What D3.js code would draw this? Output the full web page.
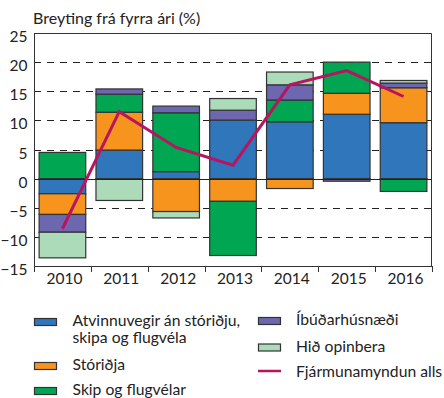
<!DOCTYPE html>
<html>
<head>
<meta charset="utf-8">
<script src="https://cdn.jsdelivr.net/npm/d3@7"></script>
<style>
  html, body { margin: 0; padding: 0; background: #fff; }
  svg { display: block; font-family: Lato, "Open Sans", sans-serif; }
</style>
</head>
<body>
<svg id="chart" width="444" height="398"></svg>
<script>
// Fjármunamyndun: breyting frá fyrra ári (%), framlag undirliða
const years = ["2010", "2011", "2012", "2013", "2014", "2015", "2016"];
const atvinnuvegir = [-2.6, 4.9, 1.2, 10.05, 9.75, 11.05, 9.6];
const storidja = [-3.55, 6.5, -5.65, -3.9, -1.7, 3.6, 6.0];
const skipFlug = [4.5, 3.1, 10.1, -9.3, 3.75, 5.35, -2.2];
const ibudir = [-3.05, 0.9, 1.15, 1.7, 2.6, -0.45, 0.8];
const opinbera = [-4.4, -3.75, -1.1, 2.0, 2.2, 0, 0.45];
const heild = [-8.6, 11.5, 5.35, 2.3, 16.1, 18.55, 14.1];

const yTicks = [-15, -10, -5, 0, 5, 10, 15, 20, 25];

const seriesNames = [
  "Atvinnuvegir án stóriðju, skipa og flugvéla",
  "Stóriðja",
  "Skip og flugvélar",
  "Íbúðarhúsnæði",
  "Hið opinbera"
];
const seriesValues = [atvinnuvegir, storidja, skipFlug, ibudir, opinbera];
const colors = ["#2f76bb", "#f7941e", "#00a651", "#6c67ae", "#acdbb9"];
const lineColor = "#b8145f";

const svg = d3.select("#chart");
const plotL = 34, plotR = 432, plotT = 33, plotB = 266;

const x = d3.scaleBand().domain(years).range([plotL, plotR])
  .paddingInner(0.18).paddingOuter(0.09);
const y = d3.scaleLinear().domain([-15, 25]).range([plotB, plotT]);

// rows for the stack
const rows = years.map((yr, i) => {
  const r = { year: yr };
  seriesNames.forEach((k, j) => { r[k] = seriesValues[j][i]; });
  return r;
});
const stacked = d3.stack().keys(seriesNames)
  .offset(d3.stackOffsetDiverging)(rows);

// title
svg.append("text")
  .attr("x", 33).attr("y", 24)
  .attr("font-size", 16).attr("fill", "#222")
  .text("Breyting frá fyrra ári (%)");

// dashed gridlines
const grid = svg.append("g");
yTicks.filter(t => t !== 0 && t !== 25 && t !== -15).forEach(t => {
  grid.append("line")
    .attr("x1", plotL).attr("x2", plotR)
    .attr("y1", Math.round(y(t)) + 0.5).attr("y2", Math.round(y(t)) + 0.5)
    .attr("stroke", "#222").attr("stroke-width", 1)
    .attr("stroke-dasharray", "7,6");
});

// stacked bars
const barG = svg.append("g");
stacked.forEach((s, j) => {
  barG.selectAll(null).data(s.filter(d => d[1] - d[0] !== 0)).join("rect")
    .attr("x", d => x(d.data.year))
    .attr("width", x.bandwidth())
    .attr("y", d => y(d[1]))
    .attr("height", d => y(d[0]) - y(d[1]))
    .attr("fill", colors[j])
    .attr("stroke", "#333")
    .attr("stroke-width", 1.2);
});

// zero line
svg.append("line")
  .attr("x1", plotL).attr("x2", plotR)
  .attr("y1", Math.round(y(0)) + 0.5).attr("y2", Math.round(y(0)) + 0.5)
  .attr("stroke", "#222").attr("stroke-width", 1);

// total line
const line = d3.line()
  .x((d, i) => x(years[i]) + x.bandwidth() / 2)
  .y(d => y(d));
svg.append("path")
  .datum(heild)
  .attr("d", line)
  .attr("fill", "none")
  .attr("stroke", lineColor)
  .attr("stroke-width", 3)
  .attr("stroke-linejoin", "miter");

// frame: top and right edges
svg.append("path")
  .attr("d", `M${plotL},${plotT + 0.5}H${plotR - 0.5}V${plotB}`)
  .attr("fill", "none").attr("stroke", "#333").attr("stroke-width", 1);

// y axis
const yAxis = svg.append("g")
  .attr("transform", `translate(${plotL + 0.5},0)`)
  .call(d3.axisLeft(y).tickValues(yTicks).tickSize(0).tickPadding(7));
yAxis.select(".domain").attr("stroke", "#333").attr("d", `M0,${plotT}V${plotB + 6}`);
yAxis.selectAll("text")
  .attr("font-family", "Lato, 'Open Sans', sans-serif")
  .attr("font-size", 15.5).attr("fill", "#222").attr("dy", "0.55em");

// x axis with ticks at the category boundaries
const step = x.step();
const boundaries = d3.range(years.length + 1).map(i => plotL + i * step);
const xAxisG = svg.append("g");
xAxisG.append("line")
  .attr("x1", plotL).attr("x2", plotR)
  .attr("y1", plotB + 0.5).attr("y2", plotB + 0.5)
  .attr("stroke", "#333");
xAxisG.selectAll(".tk").data(boundaries).join("line")
  .attr("x1", d => Math.round(d) + 0.5).attr("x2", d => Math.round(d) + 0.5)
  .attr("y1", plotB).attr("y2", plotB + 6)
  .attr("stroke", "#333");
xAxisG.selectAll(".lbl").data(years).join("text")
  .attr("x", d => x(d) + x.bandwidth() / 2 + 2)
  .attr("y", 284)
  .attr("text-anchor", "middle")
  .attr("font-size", 15.5).attr("fill", "#222")
  .text(d => d);

// legend
const legend = svg.append("g").attr("font-size", 15.7).attr("fill", "#222");
const legendItems = [
  { col: 0, sy: 318, lines: ["Atvinnuvegir án stóriðju,", "skipa og flugvéla"], ty: 326, type: "rect", c: colors[0] },
  { col: 0, sy: 362, lines: ["Stóriðja"], ty: 370, type: "rect", c: colors[1] },
  { col: 0, sy: 387, lines: ["Skip og flugvélar"], ty: 395, type: "rect", c: colors[2] },
  { col: 1, sy: 317, lines: ["Íbúðarhúsnæði"], ty: 325, type: "rect", c: colors[3] },
  { col: 1, sy: 343.5, lines: ["Hið opinbera"], ty: 351.5, type: "rect", c: colors[4] },
  { col: 1, sy: 371, lines: ["Fjármunamyndun alls"], ty: 377, type: "line", c: lineColor }
];
const colX = [34, 258];
const textX = [72.5, 296];
legendItems.forEach(it => {
  const sx = colX[it.col];
  if (it.type === "rect") {
    legend.append("rect")
      .attr("x", sx + 0.5).attr("y", it.sy + 0.5)
      .attr("width", 22).attr("height", 7)
      .attr("fill", it.c).attr("stroke", "#333").attr("stroke-width", 1.2);
  } else {
    legend.append("line")
      .attr("x1", sx).attr("x2", sx + 23)
      .attr("y1", it.sy).attr("y2", it.sy)
      .attr("stroke", it.c).attr("stroke-width", 2.5);
  }
  const t = legend.append("text").attr("x", textX[it.col]).attr("y", it.ty);
  it.lines.forEach((ln, i) => {
    t.append("tspan").attr("x", textX[it.col]).attr("dy", i === 0 ? 0 : 16.7).text(ln);
  });
});
</script>
</body>
</html>
